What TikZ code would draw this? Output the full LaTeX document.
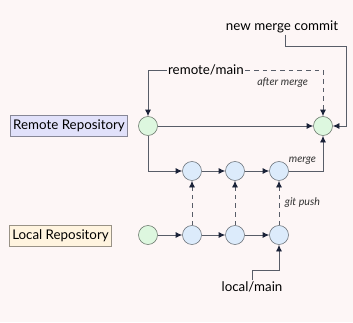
\documentclass[tikz,border=0pt]{standalone}
\usepackage{fontspec}
\setmainfont{Lato}
\usepackage{xcolor}
\usetikzlibrary{arrows.meta,positioning,calc}

\definecolor{bgpink}{HTML}{FDF6F6}
\definecolor{remotefill}{HTML}{E1E1FA}
\definecolor{localfill}{HTML}{FFF4DF}
\definecolor{greenfill}{HTML}{DDF7DF}
\definecolor{bluefill}{HTML}{DCEBFB}
\definecolor{linegray}{HTML}{585D68}
\definecolor{tipnavy}{HTML}{1A2238}

\begin{document}
\begin{tikzpicture}[
  x=0.75pt, y=-0.75pt,
  repo/.style={rectangle, draw=#1!60!black, thick, minimum height=15.75pt,
               inner sep=2pt, font=\normalsize, fill=#1},
  commit/.style={circle, draw=#1!45!black, minimum size=14.25pt, inner sep=0pt, fill=#1},
  branch/.style={font=\normalsize, inner sep=1pt},
  note/.style={font=\footnotesize\itshape, text=black!80},
  arrow/.style={-{Latex[length=5pt,width=4.5pt]}, draw=linegray, line width=0.65pt,
                arrows={[color=tipnavy]}},
  dasharrow/.style={arrow, dash pattern=on 3.5pt off 3pt}
]
  \fill[bgpink] (0,0) rectangle (353,322);
  \useasboundingbox (0,0) rectangle (353,322);

  % repositories
  \node[repo=remotefill, minimum width=87pt] (rbox) at (69,126) {Remote Repository};
  \node[repo=localfill, minimum width=74.25pt] (lbox) at (60.5,236) {Local Repository};

  % remote history
  \node[commit=greenfill] (r0) at (148,126) {};
  \node[commit=greenfill] (rm) at (323,126) {};

  % pushed commits and local commits
  \node[commit=bluefill] (t1) at (192,171) {};
  \node[commit=bluefill] (t2) at (235,171) {};
  \node[commit=bluefill] (t3) at (279,171) {};
  \node[commit=greenfill] (l0) at (148,235) {};
  \node[commit=bluefill] (l1) at (192,235) {};
  \node[commit=bluefill] (l2) at (235,235) {};
  \node[commit=bluefill] (l3) at (279,235) {};

  % branch pointers
  \node[branch] (remotemain) at (206,70) {remote/main};
  \node[branch] (newmerge) at (282,27) {new merge commit};
  \node[branch] (localmain) at (252,287) {local/main};
  \coordinate (nmbend) at (346,46);
  \coordinate (lmbend) at (279,270);

  \draw[arrow] (remotemain.west) -| (r0);
  \draw[dasharrow] (remotemain.east) -| node[note, pos=0.24, below=2pt] {after merge} (rm);
  \draw[arrow] ([xshift=2.25pt]newmerge.south) |- (nmbend) |- (rm.east);
  \draw[arrow] (localmain.north) |- (lmbend) -- (l3);

  \draw[arrow] (r0) -- (rm);
  \draw[arrow] (r0) |- (t1);
  \draw[arrow] (t1) -- (t2);
  \draw[arrow] (t2) -- (t3);
  \draw[arrow] (t3) -| node[note, pos=0.2, above=1pt] {merge} (rm);

  \draw[arrow] (l0) -- (l1);
  \draw[arrow] (l1) -- (l2);
  \draw[arrow] (l2) -- (l3);

  \draw[dasharrow] (l1) -- (t1);
  \draw[dasharrow] (l2) -- (t2);
  \draw[dasharrow] (l3) -- node[note, right=0.75pt] {git push} (t3);
\end{tikzpicture}
\end{document}
